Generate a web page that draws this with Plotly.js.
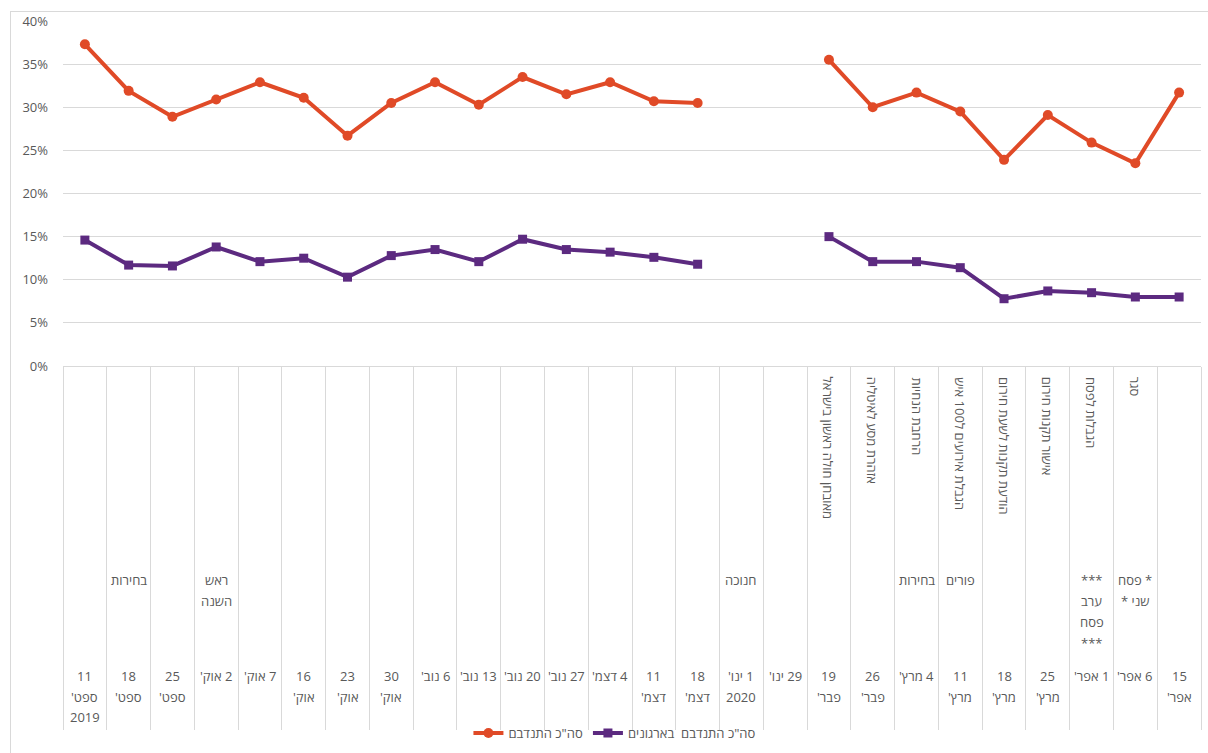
<!DOCTYPE html>
<html><head><meta charset="utf-8">
<script src="https://cdn.plot.ly/plotly-3.0.1.min.js"></script>
<style>
html,body{margin:0;padding:0;background:#fff;overflow:hidden}
#frame{position:absolute;left:10px;top:11px;width:1300px;height:900px;border:1px solid #d9d9d9;box-sizing:border-box}
#chart{position:absolute;left:0;top:0;width:1208px;height:753px}
</style></head><body>
<div id="frame"></div><div id="chart"></div>
<script>
// categories (dates)
const dates = ["11 ספט' 2019","18 ספט'","25 ספט'","2 אוק'","7 אוק'","16 אוק'","23 אוק'","30 אוק'","6 נוב'","13 נוב'","20 נוב'","27 נוב'","4 דצמ'","11 דצמ'","18 דצמ'","1 ינו' 2020","29 ינו'","19 פבר'","26 פבר'","4 מרץ'","11 מרץ'","18 מרץ'","25 מרץ'","1 אפר'","6 אפר'","15 אפר'"];
// date tick labels, as wrapped in the reference
const dateLines = [["11","ספט'","2019"],["18","ספט'"],["25","ספט'"],["2 אוק'"],["7 אוק'"],["16","אוק'"],["23","אוק'"],["30","אוק'"],["6 נוב'"],["13 נוב'"],["20 נוב'"],["27 נוב'"],["4 דצמ'"],["11","דצמ'"],["18","דצמ'"],["1 ינו'","2020"],["29 ינו'"],["19","פבר'"],["26","פבר'"],["4 מרץ'"],["11","מרץ'"],["18","מרץ'"],["25","מרץ'"],["1 אפר'"],["6 אפר'"],["15","אפר'"]];
// holidays / events (horizontal labels)
const holidays = [[],["בחירות"],[],["ראש","השנה"],[],[],[],[],[],[],[],[],[],[],[],["חנוכה"],[],[],[],["בחירות"],["פורים"],[],[],["***","ערב","פסח","***"],["* פסח","שני *"],[]];
// corona measures (rotated labels)
const measures = ["","","","","","","","","","","","","","","","","","מאובחן חולה ראשון בישראל","אזהרת מסע לאיטליה","הרחבת הנחיות","הגבלת אירועים ל100 איש","הודעת תקנות לשעת חירום","אישור תקנות חירום","הגבלות לפסח","סגר",""];
// series (%)
const seriesTotalName = 'סה"כ התנדבם';
const seriesOrgName = 'סה"כ התנדבם  בארגונים';
const totalVol = [37.3,31.9,28.9,30.9,32.9,31.1,26.7,30.5,32.9,30.3,33.5,31.5,32.9,30.7,30.5,null,null,35.5,30.0,31.7,29.5,23.9,29.1,25.9,23.5,31.7];
const orgVol = [14.6,11.7,11.6,13.8,12.1,12.5,10.3,12.8,13.5,12.1,14.7,13.5,13.2,12.6,11.8,null,null,15.0,12.1,12.1,11.4,7.8,8.7,8.5,8.0,8.0];

const ORANGE = '#E04A27', PURPLE = '#5C2A80', TXT = '#595959', GRID = '#d9d9d9';
const FONT = 'Open Sans, DejaVu Sans, sans-serif';
const rtl = s => '\u200F' + s + '\u200F';

const traces = [
  {x: dates, y: totalVol, type: 'scatter', mode: 'lines+markers', name: seriesTotalName,
   line: {color: ORANGE, width: 4}, marker: {symbol: 'circle', size: 10, color: ORANGE}, hoverinfo: 'x+y'},
  {x: dates, y: orgVol, type: 'scatter', mode: 'lines+markers', name: seriesOrgName,
   line: {color: PURPLE, width: 4}, marker: {symbol: 'square', size: 9, color: PURPLE}, hoverinfo: 'x+y'}
];

const annotations = [];
dates.forEach((d, i) => {
  dateLines[i].forEach((ln, j) => {
    annotations.push({x: d, xref: 'x', y: 0, yref: 'paper', yanchor: 'middle', xanchor: 'center',
      yshift: -310 - j * 20.5, text: rtl(ln), showarrow: false, font: {family: FONT, size: 13, color: TXT}});
  });
  holidays[i].forEach((ln, j) => {
    annotations.push({x: d, xref: 'x', y: 0, yref: 'paper', yanchor: 'middle', xanchor: 'center',
      yshift: -214 - j * 21, text: rtl(ln), showarrow: false, font: {family: FONT, size: 13, color: TXT}});
  });
  if (measures[i]) {
    annotations.push({x: d, xref: 'x', y: 0, yref: 'paper', yanchor: 'top', xanchor: 'center',
      yshift: -9, textangle: 90, text: rtl(measures[i]), showarrow: false, font: {family: FONT, size: 13, color: TXT}});
  }
});

const layout = {
  width: 1208, height: 753,
  margin: {l: 63, r: 7, t: 21, b: 386},
  paper_bgcolor: 'rgba(0,0,0,0)', plot_bgcolor: 'rgba(0,0,0,0)',
  font: {family: FONT, size: 13, color: TXT},
  showlegend: true,
  legend: {orientation: 'h', x: 0.485, xanchor: 'center', y: -1.058, yanchor: 'middle',
           font: {family: FONT, size: 13, color: TXT}, bgcolor: 'rgba(0,0,0,0)'},
  xaxis: {type: 'category', range: [-0.5, 25.5], tickson: 'boundaries', ticks: 'outside', ticklen: 363,
          tickcolor: GRID, tickwidth: 1, showticklabels: false, showgrid: false, zeroline: false, showline: false,
          fixedrange: true},
  yaxis: {range: [0, 40], dtick: 5, ticksuffix: '%', gridcolor: GRID, gridwidth: 1, zeroline: true,
          zerolinecolor: GRID, zerolinewidth: 1, showline: false, ticks: '', ticklabelstandoff: 14,
          tickfont: {family: FONT, size: 13, color: TXT}, fixedrange: true},
  annotations: annotations
};

Plotly.newPlot('chart', traces, layout, {displayModeBar: false, staticPlot: true});
</script>
</body></html>
